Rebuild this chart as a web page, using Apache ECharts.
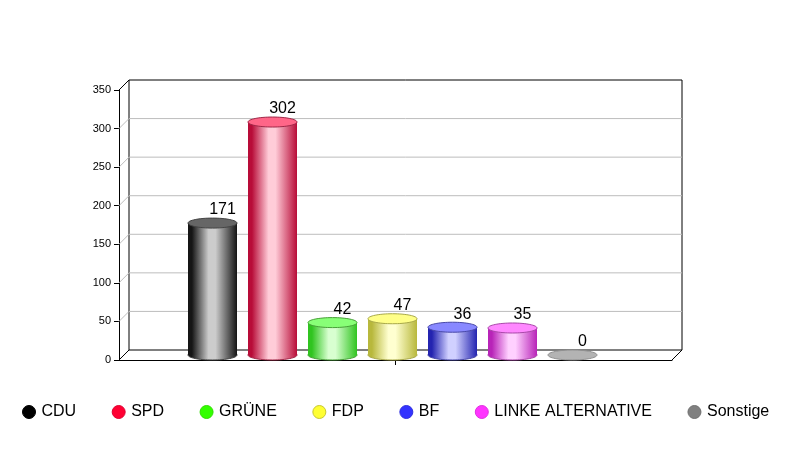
<!DOCTYPE html>
<html><head><meta charset="utf-8">
<style>html,body{margin:0;padding:0;background:#fff}#c{width:791px;height:450px}</style>
<script src="https://cdn.jsdelivr.net/npm/echarts@6/dist/echarts.min.js"></script>
</head><body><div id="c"></div>
<script>
const parties = ['CDU','SPD','GRÜNE','FDP','BF','LINKE ALTERNATIVE','Sonstige'];
const seats = [171,302,42,47,36,35,0];
const yTicks = [0,50,100,150,200,250,300,350];
const legendColors = ['#000000','#ff0033','#33ff00','#ffff33','#3333ff','#ff33ff','#808080'];
const legendBorders = ['#000000','#e00030','#30e000','#c8c830','#3030e0','#e030e0','#707070'];
const edgeColors = ['#151515','#b80c38','#30c420','#b8b83c','#2424b0','#b824b8','#808080'];
const midColors  = ['#cccccc','#ffccd8','#d8ffd0','#ffffd0','#d0d0ff','#ffd0ff','#c0c0c0'];
const capColors  = ['#666666','#ff6688','#88ff77','#ffff88','#8888ff','#ff88ff','#b3b3b3'];
const lineColors = ['#444444','#a02848','#48a038','#a8a848','#4848a8','#a848a8','#909090'];

const DX = 10, DY = -10, BAR_W = 49, CAP_RY = 5, STEP = 60, SHIFT = -3;

function frame(params, api) {
  const v = api.value(1);
  const p = api.coord([0, v]);
  const w = api.size([1, 0])[0];
  const x0 = p[0] - w / 2, x1 = p[0] + w / 2;
  const edge = v === yTicks[0] || v === yTicks[yTicks.length - 1];
  const col = edge ? '#000' : '#bdbdbd';
  const kids = [
    {type:'line', shape:{x1:x0+DX,y1:p[1]+DY,x2:x1+DX,y2:p[1]+DY}, style:{stroke:col,lineWidth:1}},
    {type:'line', shape:{x1:x0,y1:p[1],x2:x0+DX,y2:p[1]+DY}, style:{stroke:col,lineWidth:1}}
  ];
  if (v === yTicks[0]) {
    const top = api.coord([0, yTicks[yTicks.length - 1]])[1];
    kids.push(
      {type:'line', shape:{x1:x0+DX,y1:p[1]+DY,x2:x0+DX,y2:top+DY}, style:{stroke:'#000',lineWidth:1}},
      {type:'line', shape:{x1:x1+DX,y1:p[1]+DY,x2:x1+DX,y2:top+DY}, style:{stroke:'#000',lineWidth:1}},
      {type:'line', shape:{x1:x1,y1:p[1],x2:x1+DX,y2:p[1]+DY}, style:{stroke:'#000',lineWidth:1}}
    );
  }
  return {type:'group', children:kids};
}

function cylinder(i) {
  return function (params, api) {
    const v = api.value(1);
    const base = api.coord([0, 0]);
    const top = api.coord([0, v]);
    const cx = base[0] + (i - 3) * STEP + SHIFT;
    const yb = base[1] - CAP_RY, yt = top[1] - CAP_RY;
    const rx = BAR_W / 2;
    const grad = new echarts.graphic.LinearGradient(0,0,1,0,[
      {offset:0,color:edgeColors[i]},{offset:0.08,color:edgeColors[i]},
      {offset:0.42,color:midColors[i]},{offset:0.56,color:midColors[i]},
      {offset:1,color:edgeColors[i]}
    ]);
    const kids = [];
    if (v > 0) {
      kids.push(
        {type:'ellipse', shape:{cx:cx,cy:yb,rx:rx,ry:CAP_RY}, style:{fill:grad,stroke:lineColors[i],lineWidth:1}},
        {type:'rect', shape:{x:cx-rx,y:yt,width:BAR_W,height:yb-yt}, style:{fill:grad}}
      );
    }
    kids.push(
      {type:'ellipse', shape:{cx:cx,cy:yt,rx:rx,ry:CAP_RY}, style:{fill:capColors[i],stroke:lineColors[i],lineWidth:1}},
      {type:'text', style:{x:cx+10,y:yt-CAP_RY,text:String(v),fill:'#000',
        font:'16px "Liberation Sans", Arial, sans-serif',textAlign:'center',textVerticalAlign:'bottom'}}
    );
    return {type:'group', children:kids};
  };
}

const series = [{
  type:'custom', silent:true, clip:false, z:1,
  renderItem:frame, encode:{x:0,y:1},
  data:yTicks.map(t => ['', t])
}].concat(parties.map((name,i) => ({
  type:'custom', name:name, clip:false, z:2,
  itemStyle:{color:legendColors[i]},
  renderItem:cylinder(i), encode:{x:0,y:1},
  data:[['', seats[i]]]
})));

const chart = echarts.init(document.getElementById('c'), null, {renderer:'canvas'});
chart.setOption({
  animation:false,
  backgroundColor:'#fff',
  legend:{
    data:parties.map((name,i) => ({name:name,itemStyle:{color:legendColors[i],borderColor:legendBorders[i],borderWidth:1}})),
    left:22, top:404, icon:'circle', itemWidth:13, itemHeight:13, itemGap:35.5,
    padding:0, selectedMode:false,
    textStyle:{color:'#000',fontSize:16,padding:[0,0,0,1],fontFamily:'"Liberation Sans", Arial, sans-serif'}
  },
  grid:{left:119,top:90,width:553,height:270,containLabel:false},
  xAxis:{type:'category',data:[''],
    axisLine:{lineStyle:{color:'#000',width:1}},
    axisTick:{show:true,length:5,alignWithLabel:true,lineStyle:{color:'#000'}},
    axisLabel:{show:false},splitLine:{show:false}},
  yAxis:{type:'value',min:0,max:350,interval:50,
    axisLine:{show:true,lineStyle:{color:'#000',width:1}},
    axisTick:{show:true,length:5,lineStyle:{color:'#000'}},
    axisLabel:{color:'#000',fontSize:11,margin:8,fontFamily:'"Liberation Sans", Arial, sans-serif'},
    splitLine:{show:false}},
  series:series
});
</script></body></html>
